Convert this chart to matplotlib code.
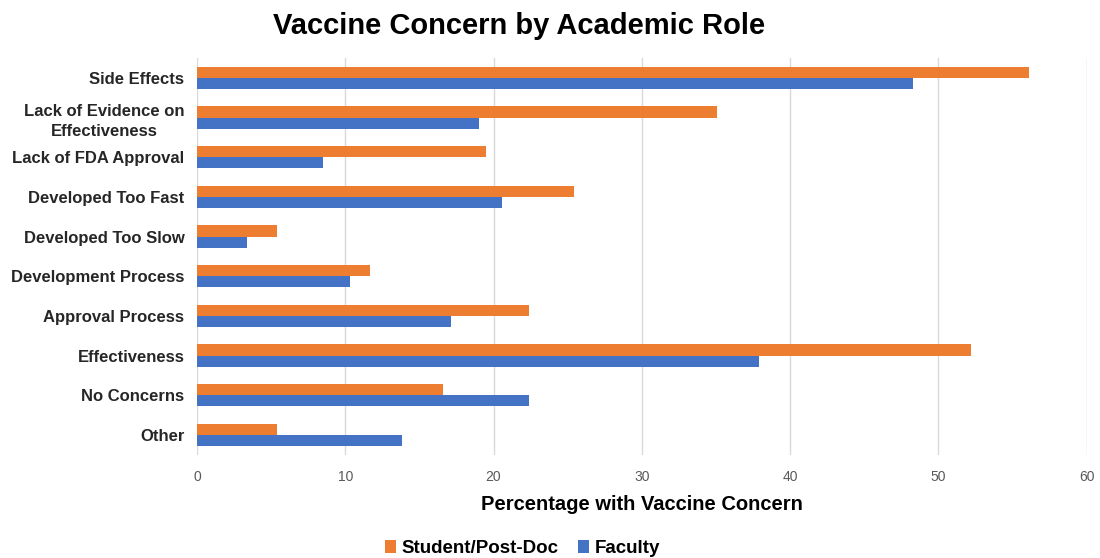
import matplotlib.pyplot as plt
import numpy as np

categories = ["Side Effects", "Lack of Evidence on\nEffectiveness", "Lack of FDA Approval",
              "Developed Too Fast", "Developed Too Slow", "Development Process",
              "Approval Process", "Effectiveness", "No Concerns", "Other"]
student = [56.1, 35.1, 19.5, 25.4, 5.4, 11.7, 22.4, 52.2, 16.6, 5.4]
faculty = [48.3, 19.0, 8.5, 20.6, 3.4, 10.3, 17.1, 37.9, 22.4, 13.8]

plt.rcParams['font.family'] = ['Liberation Sans', 'DejaVu Sans']

fig = plt.figure(figsize=(11, 5.58), dpi=100)
ax = fig.add_axes([0.179, 0.185, 0.809, 0.711])

y = np.arange(len(categories))
h = 0.28
ax.barh(y - h/2, student, height=h, color='#ED7D31', label='Student/Post-Doc', zorder=3)
ax.barh(y + h/2, faculty, height=h, color='#4472C4', label='Faculty', zorder=3)

ax.set_ylim(len(categories) - 0.5, -0.5)
ax.set_xlim(0, 60)
ax.set_xticks(range(0, 61, 10))
ax.set_yticks(y)
ax.set_yticklabels(categories, fontsize=12, fontweight='bold', color='#262626',
                   ha='right', multialignment='center', linespacing=1.45)
ax.tick_params(axis='y', length=0, pad=9)
ax.tick_params(axis='x', length=0, labelsize=10, labelcolor='#595959', pad=11)
ax.grid(axis='x', color='#d9d9d9', lw=1, zorder=0)
for s in ax.spines.values():
    s.set_visible(False)

ax.set_xlabel('Percentage with Vaccine Concern', fontsize=14.5, fontweight='bold', labelpad=8)
fig.text(0.472, 0.953, 'Vaccine Concern by Academic Role', fontsize=21, fontweight='bold',
         ha='center', va='center')

fig.legend(loc='center', bbox_to_anchor=(0.475, 0.017), ncol=2, frameon=False,
           prop={'size': 13.5, 'weight': 'bold'}, handlelength=0.6, handleheight=0.7,
           handletextpad=0.3, columnspacing=1.0)

fig.savefig('out.png', dpi=100)
